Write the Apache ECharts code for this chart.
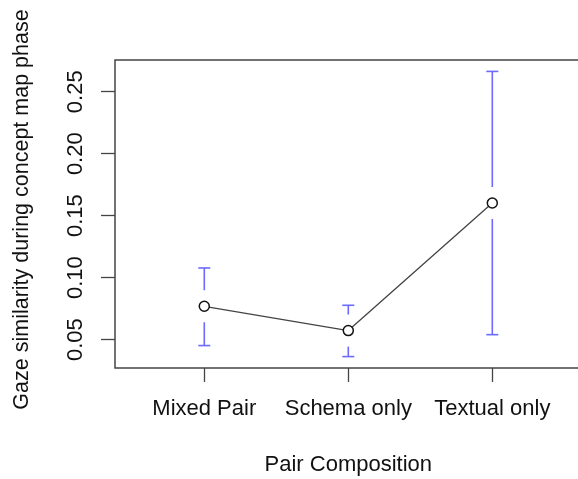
<!DOCTYPE html>
<html><head><meta charset="utf-8">
<script src="https://cdn.jsdelivr.net/npm/echarts@6/dist/echarts.min.js"></script>
<style>html,body{margin:0;padding:0;background:#fff}#c{width:578px;height:479px}</style>
</head><body><div id="c"></div>
<script>
const categories = ['Mixed Pair', 'Schema only', 'Textual only'];
const positions = [1, 2, 3];
const means = [0.0769, 0.0573, 0.1602];
const lowers = [0.0452, 0.0363, 0.0540];
const uppers = [0.1078, 0.0777, 0.2664];
const yTicks = [0.05, 0.10, 0.15, 0.20, 0.25];
const yTickLabels = ['0.05', '0.10', '0.15', '0.20', '0.25'];
const xTitle = 'Pair Composition';
const yTitle = 'Gaze similarity during concept map phase';

const lo = Math.min(...lowers), hi = Math.max(...uppers);
const pad = (hi - lo) * 0.04;
const FONT = "'Liberation Sans', Arial, sans-serif";
const FS = 22;

const chart = echarts.init(document.getElementById('c'), null, {renderer: 'canvas'});
chart.setOption({
  animation: false,
  backgroundColor: '#fff',
  grid: {left: 115, top: 60, right: -3.6, bottom: 111, show: true, outerBoundsMode: 'none', containLabel: false,
    borderColor: '#444', borderWidth: 1.5, backgroundColor: 'transparent'},
  xAxis: {
    type: 'value', min: 0.38, max: 3.62,
    name: xTitle, nameLocation: 'middle', nameGap: 86,
    nameTextStyle: {fontFamily: FONT, fontSize: FS, color: '#111'},
    axisLine: {show: false},
    splitLine: {show: false},
    axisTick: {show: true, inside: false, length: 14, customValues: positions, lineStyle: {color: '#444', width: 1.3}},
    axisLabel: {customValues: positions, margin: 30, fontFamily: FONT, fontSize: FS, color: '#111',
      formatter: v => categories[positions.indexOf(v)] || ''}
  },
  yAxis: {
    type: 'value', min: lo - pad, max: hi + pad,
    name: yTitle, nameLocation: 'middle', nameGap: 82,
    nameTextStyle: {fontFamily: FONT, fontSize: 21.5, color: '#111', padding: [0, 0, 0, 9]},
    axisLine: {show: false},
    splitLine: {show: false},
    axisTick: {show: true, inside: false, length: 14, customValues: yTicks, lineStyle: {color: '#444', width: 1.3}},
    axisLabel: {customValues: yTicks, rotate: 90, margin: 28, fontFamily: FONT, fontSize: FS, color: '#111',
      formatter: v => yTickLabels[yTicks.findIndex(t => Math.abs(t - v) < 1e-9)] || ''}
  },
  series: [
    {
      type: 'custom',
      z: 2,
      data: positions.map((p, i) => [p, means[i], lowers[i], uppers[i]]),
      renderItem: function (params, api) {
        const x = api.value(0);
        const m = api.coord([x, api.value(1)]);
        const l = api.coord([x, api.value(2)]);
        const u = api.coord([x, api.value(3)]);
        const gap = 16, cap = 6;
        const style = {stroke: '#6b6bff', lineWidth: 1.6};
        const children = [];
        if (m[1] - u[1] > gap) children.push({type: 'line', shape: {x1: m[0], y1: u[1], x2: m[0], y2: m[1] - gap}, style});
        children.push({type: 'line', shape: {x1: m[0] - cap, y1: u[1], x2: m[0] + cap, y2: u[1]}, style});
        if (l[1] - m[1] > gap) children.push({type: 'line', shape: {x1: m[0], y1: m[1] + gap, x2: m[0], y2: l[1]}, style});
        children.push({type: 'line', shape: {x1: m[0] - cap, y1: l[1], x2: m[0] + cap, y2: l[1]}, style});
        return {type: 'group', children};
      }
    },
    {
      type: 'line',
      z: 3,
      data: positions.map((p, i) => [p, means[i]]),
      lineStyle: {color: '#444', width: 1.3},
      symbol: 'circle', symbolSize: 10,
      itemStyle: {color: '#fff', borderColor: '#111', borderWidth: 1.5},
      emphasis: {disabled: true}
    }
  ]
});
</script></body></html>
